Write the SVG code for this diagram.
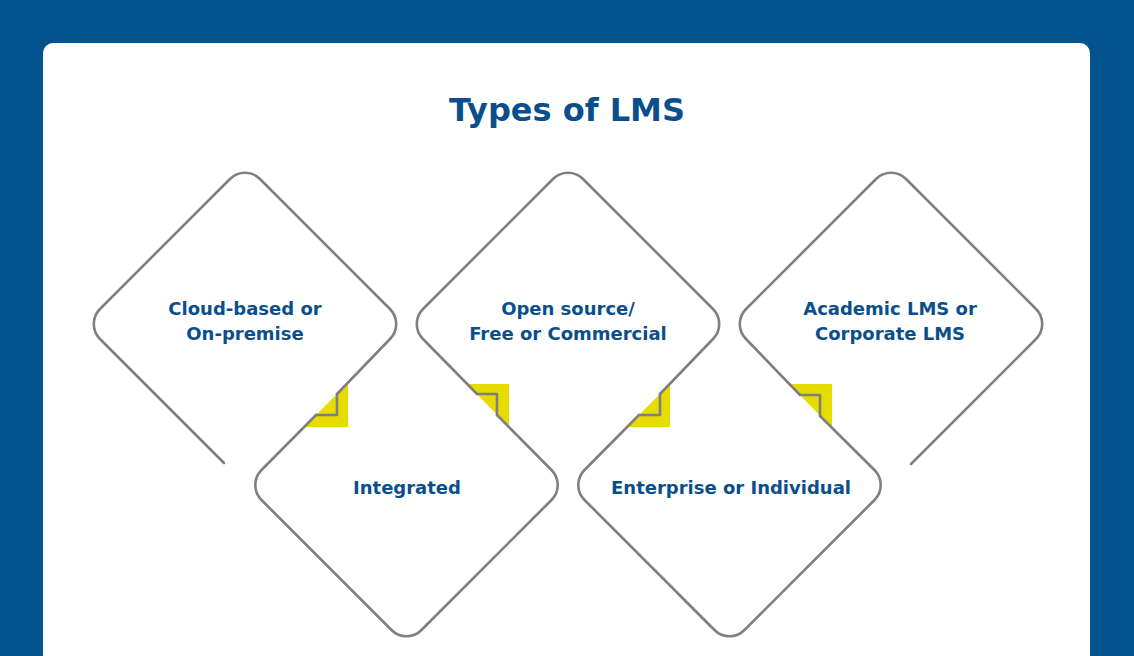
<svg xmlns="http://www.w3.org/2000/svg" width="1134" height="656" viewBox="0 0 1134 656">
<style>
.edge{fill:none;stroke:#7f7f7f;stroke-width:2.6;stroke-linejoin:round;stroke-linecap:round}
.tri{fill:#e6dc00;stroke:none}
.lbl{font-family:"DejaVu Sans","Liberation Sans",sans-serif;font-weight:700;font-size:18px;fill:#0a4f8c;text-anchor:middle}
.title{font-family:"DejaVu Sans","Liberation Sans",sans-serif;font-weight:700;font-size:32px;fill:#0a4f8c;text-anchor:middle}
</style>
<rect x="0" y="0" width="1134" height="656" fill="#03538f"/>
<rect x="43" y="43" width="1047" height="640" rx="10" fill="#ffffff"/>
<text class="title" x="567" y="121">Types of LMS</text>
<g id="connectors">
<polygon class="tri" points="348,383 348,427 304,427"/>
<polygon class="tri" points="467,384 509,384 509,427"/>
<polygon class="tri" points="670,384 670,427 627,427"/>
<polygon class="tri" points="789,384 832,384 832,428"/>
<path class="edge" d="M337 394 L337 415 L316 415"/>
<path class="edge" d="M497 415 L497 394 L477 394"/>
<path class="edge" d="M660 394 L660 415 L639 415"/>
<path class="edge" d="M820 416 L820 395 L800 395"/>
</g>
<g id="node-cloud">
<path class="edge" d="M224 463 L100 339 A21.2 21.2 0 0 1 100 309 L230 179 A21.2 21.2 0 0 1 260 179 L390 309 A21.2 21.2 0 0 1 390 339 L337 394"/>
<text class="lbl" x="245" y="315">Cloud-based or</text>
<text class="lbl" x="245" y="340">On-premise</text>
</g>
<g id="node-integrated">
<path class="edge" d="M316 415 L261.5 470 A21.2 21.2 0 0 0 261.5 500 L391.5 630 A21.2 21.2 0 0 0 421.5 630 L551.5 500 A21.2 21.2 0 0 0 551.5 470 L497 415"/>
<text class="lbl" x="407" y="494">Integrated</text>
</g>
<g id="node-open">
<path class="edge" d="M477 394 L423 339 A21.2 21.2 0 0 1 423 309 L553 179 A21.2 21.2 0 0 1 583 179 L713 309 A21.2 21.2 0 0 1 713 339 L660 394"/>
<text class="lbl" x="568" y="315">Open source/</text>
<text class="lbl" x="568" y="340">Free or Commercial</text>
</g>
<g id="node-enterprise">
<path class="edge" d="M639 415 L584.5 470 A21.2 21.2 0 0 0 584.5 500 L714.5 630 A21.2 21.2 0 0 0 744.5 630 L874.5 500 A21.2 21.2 0 0 0 874.5 470 L820 416"/>
<text class="lbl" x="731" y="494">Enterprise or Individual</text>
</g>
<g id="node-academic">
<path class="edge" d="M800 395 L746 339 A21.2 21.2 0 0 1 746 309 L876 179 A21.2 21.2 0 0 1 906 179 L1036 309 A21.2 21.2 0 0 1 1036 339 L911 464"/>
<text class="lbl" x="890" y="315">Academic LMS or</text>
<text class="lbl" x="890" y="340">Corporate LMS</text>
</g>
</svg>
